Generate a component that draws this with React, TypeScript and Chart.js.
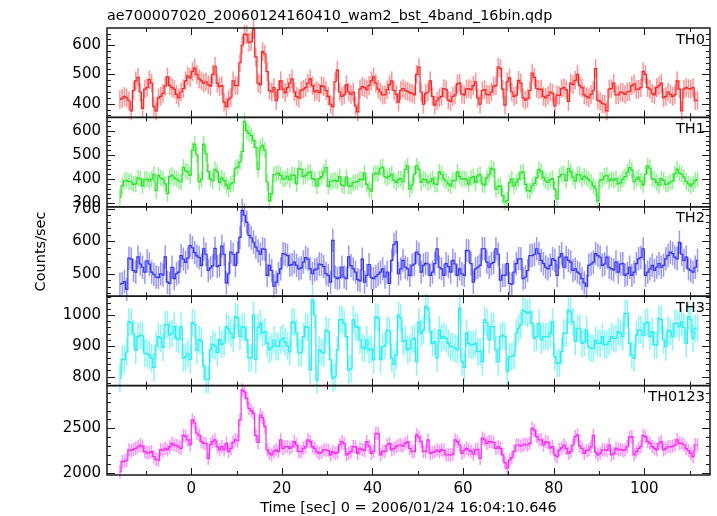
import React, { useEffect, useRef } from "react";
import { Chart, registerables } from "chart.js";
Chart.register(...registerables);

// ---- data (0.5 s bins, first bin centre at -15.75 s) ----
const BIN_START = -15.75;
const BIN_WIDTH = 0.5;

const TH0_RATE = [
  415, 418, 425, 420, 410, 375, 445, 478, 490, 440,
  384, 450, 455, 482, 470, 390, 375, 420, 425, 435,
  460, 492, 462, 455, 450, 432, 420, 440, 452, 478,
  495, 488, 510, 522, 500, 485, 478, 470, 475, 465,
  460, 500, 528, 470, 458, 462, 405, 390, 415, 422,
  478, 462, 462, 540, 600, 638, 636, 610, 612, 655,
  560, 470, 465, 578, 570, 510, 445, 440, 455, 410,
  448, 478, 450, 438, 455, 470, 485, 440, 425, 420,
  445, 450, 455, 470, 485, 462, 440, 445, 438, 462,
  458, 445, 425, 398, 390, 475, 515, 440, 425, 430,
  465, 440, 432, 440, 392, 372, 450, 458, 455, 448,
  462, 478, 492, 470, 450, 440, 430, 430, 448, 465,
  478, 445, 432, 405, 445, 452, 445, 442, 438, 435,
  430, 500, 525, 440, 398, 435, 440, 478, 425, 395,
  410, 420, 425, 452, 448, 412, 408, 425, 430, 468,
  470, 433, 430, 450, 452, 448, 462, 475, 420, 398,
  445, 448, 432, 430, 440, 460, 462, 525, 520, 450,
  395, 475, 488, 440, 425, 430, 480, 470, 420, 412,
  418, 445, 505, 490, 452, 448, 450, 425, 420, 428,
  440, 436, 392, 430, 428, 452, 455, 448, 408, 470,
  465, 480, 500, 462, 455, 430, 425, 420, 432, 445,
  520, 412, 408, 400, 398, 375, 450, 452, 470, 430,
  430, 440, 438, 432, 440, 442, 462, 468, 448, 450,
  455, 510, 500, 455, 450, 435, 430, 455, 462, 470,
  420, 425, 440, 432, 425, 430, 478, 450, 375, 450,
  455, 452, 450, 455, 410, 412,
];

const TH1_RATE = [
  325, 372, 392, 395, 390, 388, 378, 380, 405, 400,
  372, 398, 400, 392, 400, 420, 352, 415, 405, 400,
  380, 340, 410, 415, 405, 400, 392, 388, 448, 434,
  430, 415, 520, 545, 500, 388, 400, 545, 505, 432,
  400, 392, 440, 430, 385, 405, 395, 375, 360, 380,
  385, 445, 450, 470, 515, 640, 600, 590, 580, 560,
  531, 440, 530, 540, 520, 388, 310, 340, 418, 420,
  425, 415, 400, 402, 412, 398, 418, 415, 380, 445,
  440, 410, 415, 425, 430, 402, 398, 372, 402, 410,
  430, 448, 370, 390, 392, 395, 390, 410, 375, 372,
  408, 372, 370, 385, 388, 390, 400, 398, 425, 378,
  360, 350, 420, 425, 422, 445, 450, 410, 405, 412,
  420, 395, 385, 400, 402, 388, 440, 455, 358, 375,
  420, 455, 440, 386, 400, 398, 385, 390, 402, 380,
  378, 430, 420, 400, 392, 380, 372, 395, 392, 430,
  410, 400, 402, 398, 379, 405, 410, 386, 413, 420,
  380, 375, 405, 420, 445, 440, 358, 370, 372, 330,
  305, 312, 385, 400, 372, 386, 400, 425, 430, 378,
  352, 350, 372, 382, 405, 440, 430, 406, 392, 386,
  398, 402, 358, 318, 410, 420, 420, 395, 445, 430,
  408, 392, 420, 418, 400, 412, 405, 398, 388, 372,
  360, 310, 395, 398, 412, 415, 392, 400, 395, 402,
  380, 385, 400, 410, 428, 448, 438, 388, 400, 408,
  392, 375, 420, 455, 445, 402, 398, 386, 375, 402,
  395, 378, 380, 388, 392, 422, 440, 425, 420, 408,
  390, 380, 372, 380, 395, 400,
];

const TH2_RATE = [
  468, 470, 476, 452, 548, 545, 510, 505, 552, 530,
  520, 505, 540, 530, 505, 498, 490, 488, 500, 496,
  552, 474, 470, 520, 485, 500, 505, 556, 545, 535,
  548, 587, 580, 565, 555, 550, 526, 577, 560, 510,
  518, 525, 578, 522, 526, 585, 560, 472, 500, 567,
  560, 526, 565, 612, 695, 680, 659, 618, 610, 597,
  582, 570, 560, 577, 575, 495, 526, 510, 462, 474,
  500, 515, 562, 560, 556, 526, 528, 536, 526, 515,
  518, 536, 550, 545, 515, 500, 512, 515, 530, 528,
  522, 500, 495, 474, 603, 490, 485, 488, 520, 490,
  485, 552, 525, 515, 505, 482, 478, 545, 474, 495,
  528, 488, 485, 492, 498, 505, 515, 490, 505, 470,
  541, 590, 598, 500, 515, 541, 520, 515, 495, 526,
  530, 567, 560, 505, 526, 532, 530, 495, 505, 531,
  577, 520, 515, 495, 531, 522, 505, 541, 530, 495,
  515, 500, 495, 572, 570, 531, 474, 515, 520, 526,
  577, 577, 536, 520, 531, 535, 577, 560, 480, 495,
  495, 531, 470, 468, 505, 531, 546, 546, 485, 490,
  510, 556, 556, 560, 577, 562, 541, 531, 520, 515,
  526, 546, 541, 495, 551, 562, 520, 551, 541, 536,
  510, 515, 505, 500, 485, 472, 462, 526, 530, 536,
  562, 556, 551, 526, 530, 551, 520, 515, 512, 536,
  505, 530, 531, 495, 500, 520, 495, 505, 531, 546,
  550, 577, 495, 505, 515, 526, 510, 520, 531, 520,
  526, 546, 556, 567, 562, 551, 546, 597, 560, 541,
  551, 515, 510, 505, 520, 541,
];

const TH3_RATE = [
  795, 856, 855, 880, 978, 975, 940, 885, 930, 935,
  932, 876, 875, 870, 860, 830, 900, 930, 925, 895,
  968, 970, 935, 940, 962, 925, 920, 962, 860, 865,
  876, 855, 975, 970, 885, 920, 915, 835, 790, 790,
  887, 905, 900, 878, 920, 905, 910, 962, 955, 941,
  925, 995, 990, 930, 962, 960, 920, 860, 862, 1000,
  855, 960, 973, 941, 945, 908, 887, 895, 919, 900,
  897, 919, 925, 912, 900, 880, 978, 975, 941, 876,
  878, 930, 962, 960, 822, 1049, 1000, 789, 887, 880,
  876, 951, 945, 855, 795, 800, 887, 984, 985, 973,
  930, 822, 825, 984, 962, 960, 919, 895, 890, 919,
  887, 890, 855, 995, 990, 855, 897, 900, 951, 948,
  860, 840, 870, 1000, 990, 914, 919, 887, 892, 919,
  924, 849, 978, 941, 951, 1027, 1020, 946, 908, 914,
  860, 951, 924, 930, 924, 908, 897, 897, 892, 887,
  1022, 849, 830, 941, 908, 903, 903, 908, 881, 881,
  849, 984, 975, 919, 962, 962, 887, 849, 930, 935,
  930, 816, 865, 865, 870, 941, 957, 968, 1016, 1010,
  1005, 1010, 973, 924, 930, 973, 919, 930, 930, 930,
  941, 978, 865, 843, 845, 881, 941, 941, 1016, 1010,
  978, 914, 957, 957, 908, 912, 951, 897, 892, 892,
  919, 908, 908, 930, 903, 905, 914, 930, 924, 924,
  946, 941, 930, 1005, 1005, 908, 870, 860, 935, 951,
  951, 935, 973, 978, 930, 946, 903, 903, 989, 985,
  919, 897, 951, 946, 930, 973, 973, 962, 978, 960,
  908, 995, 985, 924, 957, 957,
];

const TH0123_RATE = [
  2010, 2125, 2130, 2140, 2256, 2250, 2262, 2275, 2290, 2312,
  2300, 2237, 2220, 2225, 2237, 2180, 2150, 2140, 2260, 2250,
  2275, 2256, 2290, 2331, 2310, 2305, 2290, 2275, 2420, 2410,
  2369, 2312, 2594, 2560, 2444, 2420, 2350, 2331, 2331, 2162,
  2320, 2350, 2369, 2290, 2256, 2294, 2256, 2331, 2237, 2275,
  2340, 2369, 2360, 2594, 2932, 2910, 2838, 2725, 2700, 2669,
  2420, 2340, 2650, 2620, 2520, 2256, 2218, 2200, 2240, 2256,
  2237, 2369, 2275, 2294, 2294, 2275, 2294, 2350, 2312, 2240,
  2237, 2275, 2290, 2369, 2350, 2294, 2275, 2237, 2218, 2230,
  2256, 2256, 2250, 2200, 2237, 2218, 2225, 2312, 2350, 2331,
  2200, 2218, 2237, 2294, 2290, 2218, 2275, 2260, 2250, 2350,
  2300, 2218, 2240, 2444, 2440, 2200, 2240, 2237, 2312, 2330,
  2256, 2275, 2294, 2312, 2312, 2300, 2331, 2350, 2275, 2237,
  2240, 2425, 2400, 2350, 2237, 2240, 2369, 2218, 2225, 2237,
  2256, 2237, 2260, 2250, 2200, 2200, 2200, 2210, 2369, 2350,
  2312, 2218, 2250, 2275, 2256, 2240, 2210, 2256, 2262, 2162,
  2390, 2369, 2331, 2350, 2350, 2340, 2275, 2294, 2275, 2200,
  2110, 2050, 2143, 2170, 2237, 2312, 2312, 2300, 2312, 2320,
  2312, 2331, 2500, 2480, 2406, 2369, 2369, 2312, 2350, 2340,
  2280, 2294, 2200, 2180, 2256, 2280, 2312, 2275, 2218, 2237,
  2312, 2406, 2425, 2300, 2275, 2218, 2250, 2256, 2290, 2420,
  2230, 2200, 2218, 2256, 2256, 2250, 2312, 2200, 2218, 2275,
  2256, 2262, 2250, 2256, 2294, 2400, 2406, 2200, 2237, 2275,
  2294, 2420, 2406, 2350, 2331, 2294, 2275, 2256, 2331, 2350,
  2256, 2275, 2294, 2290, 2300, 2312, 2369, 2331, 2331, 2312,
  2275, 2250, 2218, 2180, 2312, 2312,
];

// typical 1-sigma error per band (counts/sec)
const BAND_ERRORS = [32, 34, 36, 45, 75];

const BAND_NAMES = ["TH0", "TH1", "TH2", "TH3", "TH0123"];
const TH0_TICKS = [400, 500, 600];
const TH1_TICKS = [300, 400, 500, 600];
const TH2_TICKS = [500, 600, 700];
const TH3_TICKS = [800, 900, 1000];
const TH0123_TICKS = [2000, 2500];
const X_TICKS = [0, 20, 40, 60, 80, 100];

const TITLE = "ae700007020_20060124160410_wam2_bst_4band_16bin.qdp";
const X_TITLE = "Time [sec] 0 = 2006/01/24 16:04:10.646";
const Y_TITLE = "Counts/sec";

const FONT = "DejaVu Sans";

const PANELS = [
  { rate: TH0_RATE, ticks: TH0_TICKS, min: 353, max: 659, minor: 20, line: "#ff2020", err: "rgba(255,40,40,0.5)" },
  { rate: TH1_RATE, ticks: TH1_TICKS, min: 285, max: 656, minor: 20, line: "#22e622", err: "rgba(40,230,40,0.5)" },
  { rate: TH2_RATE, ticks: TH2_TICKS, min: 431, max: 706, minor: 20, line: "#3030ff", err: "rgba(50,50,255,0.5)" },
  { rate: TH3_RATE, ticks: TH3_TICKS, min: 771, max: 1061, minor: 20, line: "#20f0f0", err: "rgba(20,240,240,0.5)" },
  { rate: TH0123_RATE, ticks: TH0123_TICKS, min: 1974, max: 2981, minor: 100, line: "#ff20ff", err: "rgba(255,40,255,0.5)" },
];

const binTime = (j: number) => BIN_START + j * BIN_WIDTH;

const errorBarPlugin = {
  id: "errorBars",
  beforeDatasetsDraw(chart: any) {
    const ctx = chart.ctx;
    const xs = chart.scales.x;
    ctx.save();
    PANELS.forEach((p, i) => {
      const ys = chart.scales["y" + i];
      const e = BAND_ERRORS[i];
      ctx.strokeStyle = p.err;
      ctx.lineWidth = 1.5;
      ctx.beginPath();
      p.rate.forEach((v, j) => {
        const x = xs.getPixelForValue(binTime(j));
        ctx.moveTo(x, ys.getPixelForValue(v - e));
        ctx.lineTo(x, ys.getPixelForValue(v + e));
      });
      ctx.stroke();
    });
    ctx.restore();
  },
};

const framePlugin = {
  id: "frames",
  afterDraw(chart: any) {
    const ctx = chart.ctx;
    const { left, right } = chart.chartArea;
    const xs = chart.scales.x;
    ctx.save();
    ctx.strokeStyle = "#1a1a1a";
    PANELS.forEach((p, i) => {
      const ys = chart.scales["y" + i];
      const top = ys.top;
      const bottom = ys.bottom;
      ctx.lineWidth = 1;
      ctx.beginPath();
      // y ticks, left and right, inward
      const start = Math.ceil(p.min / p.minor) * p.minor;
      for (let v = start; v <= p.max; v += p.minor) {
        const y = Math.round(ys.getPixelForValue(v)) + 0.5;
        const len = p.ticks.includes(v) ? 8 : 4;
        ctx.moveTo(left, y);
        ctx.lineTo(left + len, y);
        ctx.moveTo(right, y);
        ctx.lineTo(right - len, y);
      }
      // x ticks, top and bottom, inward
      for (let t = -10; t <= 110; t += 10) {
        const x = Math.round(xs.getPixelForValue(t)) + 0.5;
        const len = t % 20 === 0 ? 7 : 4;
        ctx.moveTo(x, top);
        ctx.lineTo(x, top + len);
        ctx.moveTo(x, bottom);
        ctx.lineTo(x, bottom - len);
      }
      ctx.stroke();
      ctx.lineWidth = 1.5;
      ctx.strokeRect(left, top, right - left, bottom - top);
    });
    // texts
    ctx.fillStyle = "#000";
    ctx.font = `14.3px "${FONT}"`;
    ctx.textAlign = "left";
    ctx.textBaseline = "alphabetic";
    ctx.fillText(TITLE, 107, 20);
    ctx.font = `14.5px "${FONT}"`;
    ctx.textAlign = "right";
    PANELS.forEach((p, i) => {
      const ys = chart.scales["y" + i];
      ctx.fillText(BAND_NAMES[i], right - 5, ys.top + 15.5);
    });
    ctx.textAlign = "center";
    ctx.textBaseline = "middle";
    ctx.fillText(X_TITLE, (left + right) / 2, 508);
    ctx.save();
    ctx.translate(41, (chart.chartArea.top + chart.chartArea.bottom) / 2);
    ctx.rotate(-Math.PI / 2);
    ctx.fillText(Y_TITLE, 0, 0);
    ctx.restore();
    ctx.restore();
  },
};

export default function App() {
  const ref = useRef<HTMLCanvasElement>(null);
  useEffect(() => {
    if (!ref.current) return;
    const scales: any = {
      x: {
        type: "linear",
        position: "bottom",
        min: -18.6,
        max: 114.5,
        grid: { display: false, drawTicks: false },
        border: { display: false },
        afterBuildTicks: (s: any) => {
          s.ticks = X_TICKS.map((v) => ({ value: v }));
        },
        afterFit: (s: any) => {
          s.height = 41;
        },
        ticks: {
          color: "#000",
          font: { family: FONT, size: 15 },
          padding: 5,
          maxRotation: 0,
          autoSkip: false,
          callback: (v: any) => String(v),
        },
      },
    };
    PANELS.forEach((p, i) => {
      scales["y" + i] = {
        type: "linear",
        position: "left",
        stack: "panels",
        stackWeight: 1,
        weight: PANELS.length - i,
        min: p.min,
        max: p.max,
        grid: { display: false, drawTicks: false },
        border: { display: false },
        afterBuildTicks: (s: any) => {
          s.ticks = p.ticks.map((v) => ({ value: v }));
        },
        afterFit: (s: any) => {
          s.width = 107;
        },
        ticks: {
          color: "#000",
          font: { family: FONT, size: 15 },
          padding: 6,
          autoSkip: false,
          callback: (v: any) => String(v),
        },
      };
    });
    const chart = new Chart(ref.current, {
      type: "line",
      data: {
        datasets: PANELS.map((p, i) => ({
          label: BAND_NAMES[i],
          data: p.rate.map((v, j) => ({ x: binTime(j), y: v })),
          yAxisID: "y" + i,
          xAxisID: "x",
          borderColor: p.line,
          borderWidth: 1.2,
          stepped: "middle" as const,
          pointRadius: 0,
          fill: false,
        })),
      },
      options: {
        responsive: false,
        animation: false,
        layout: { padding: { top: 28, right: 7, left: 0, bottom: 0 } },
        plugins: { legend: { display: false }, tooltip: { enabled: false } },
        scales,
      },
      plugins: [errorBarPlugin, framePlugin],
    });
    return () => chart.destroy();
  }, []);
  return (
    <div style={{ position: "fixed", left: 0, top: 0, width: 717, height: 516, background: "#fff" }}>
      <canvas ref={ref} width={717} height={516} style={{ display: "block" }} />
    </div>
  );
}
